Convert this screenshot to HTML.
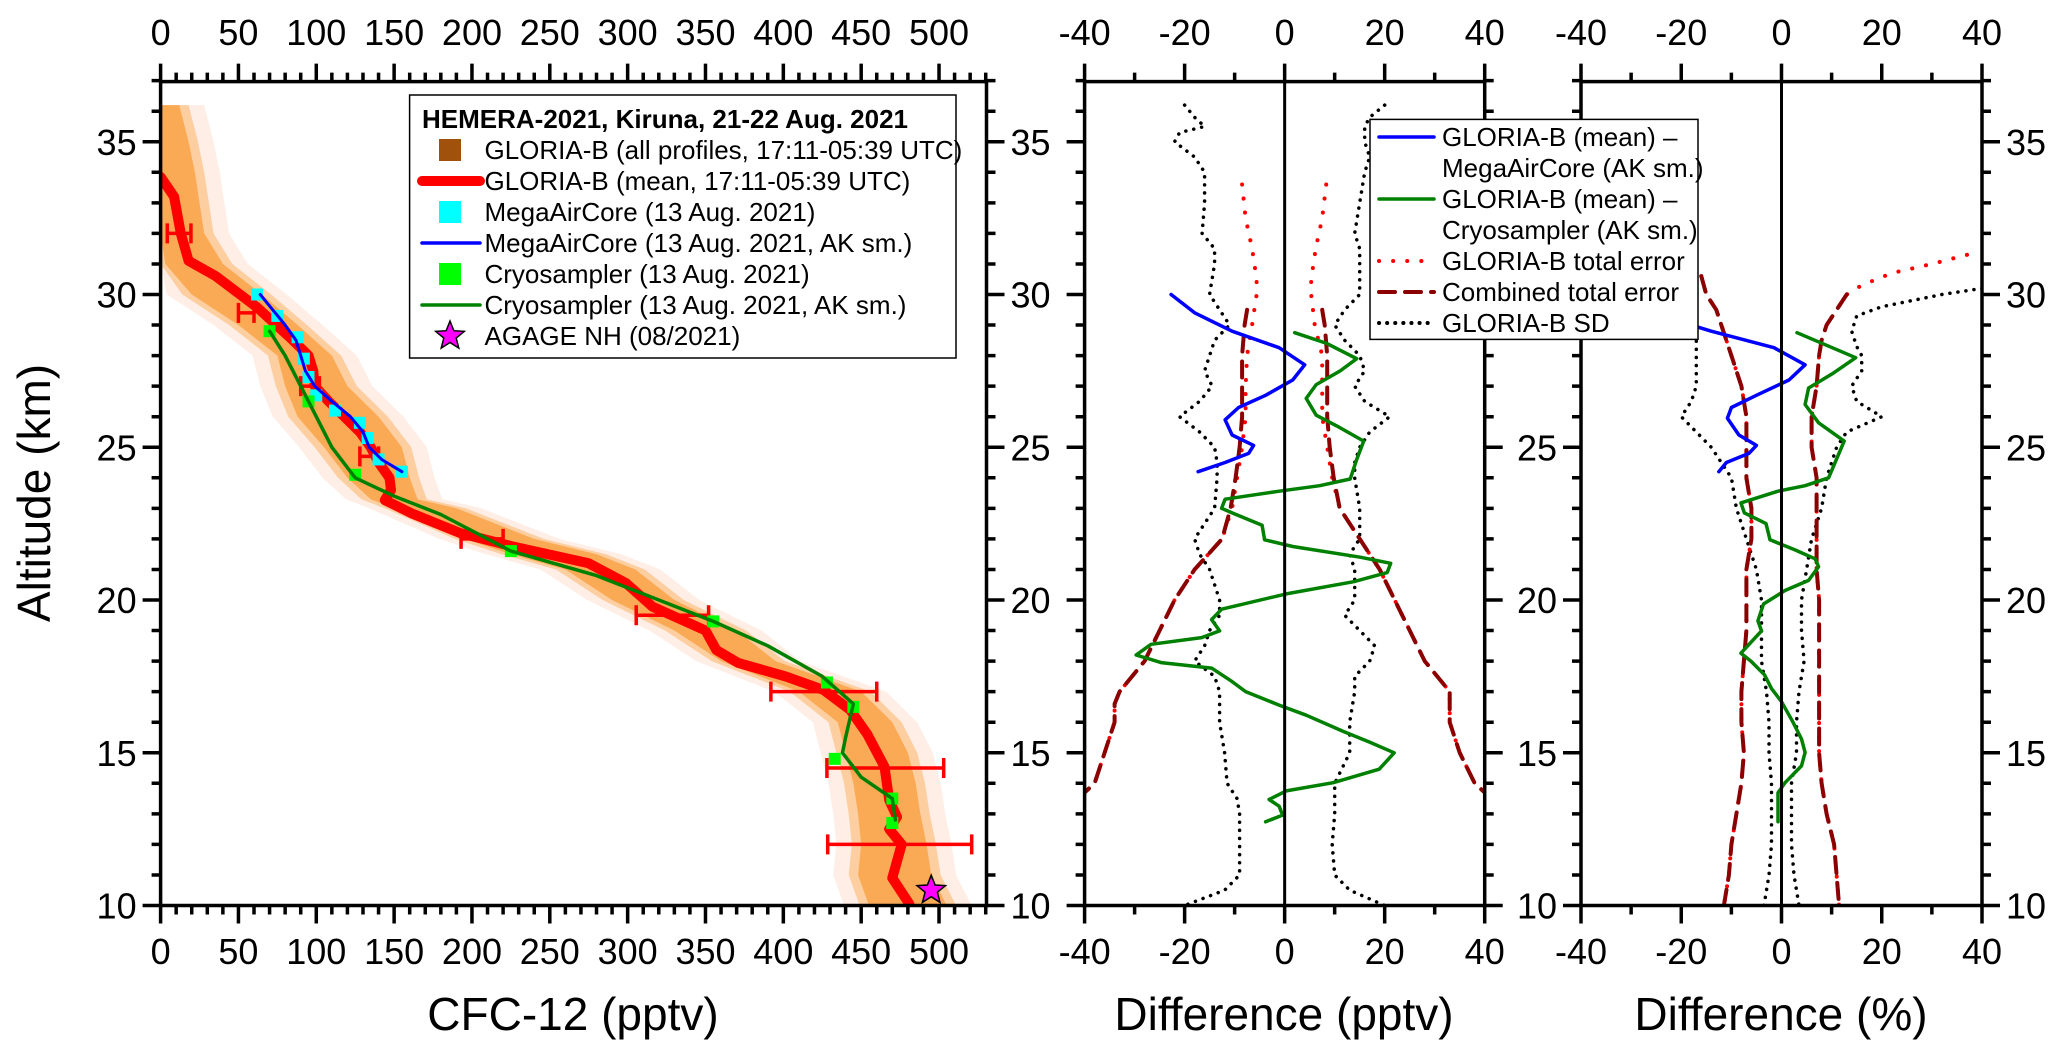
<!DOCTYPE html>
<html><head><meta charset="utf-8"><style>
html,body{margin:0;padding:0;background:#fff;}
svg{display:block;font-family:"Liberation Sans",Arial,sans-serif;}
</style></head><body>
<svg id="chart" xmlns="http://www.w3.org/2000/svg" width="2067" height="1058" viewBox="0 0 2067 1058">
<g id="layer-data"></g>
<g id="layer-axes"></g>
<g id="layer-legend"></g>
</svg>
<script>
// ---------- Panel 1 data (CFC-12 pptv vs altitude km) ----------
const meanAlt = [33.85,33.2,32.0,31.1,30.6,29.6,28.6,28.0,27.5,27.0,26.5,26.0,25.5,25.0,24.5,24.0,23.6,23.27,22.84,22.19,21.74,21.2,20.55,19.78,19.0,18.36,17.94,17.49,17.05,16.4,15.6,14.54,13.45,12.9,12.5,12.0,10.9,10.05];
const meanVal = [0,8.7,13,18,35.5,61.5,83,95,98,99,108,118,128,135,140,147,148,144,161,192.5,227,275,299,316,350,357,371,402,426,443,454,465,468,473,468,476,470,481];
const errAlt = [32.0,29.4,27.0,24.7,22.0,19.5,17.0,14.5,12.0];
const errLo  = [4.3,50,90,128,193,305.5,392,428,428.5];
const errHi  = [19.5,60,102,140,220,352,460,503,521];
const cloudAlt = [36.2,35,34,33,32,31,30,29,28,27,26,25,24,23.3,23,22,21.5,21,20,19,18,17,16,15,14,13,12,11,10];
const cloudLo  = [0,0,0,0,0,3,20,50,75,80,88,105,120,135,150,195,225,260,290,330,360,410,435,440,445,448,450,448,455];
const cloudHi  = [12,18,22,25,28,40,65,88,110,120,140,155,160,165,190,240,280,305,330,370,395,450,470,480,485,488,492,495,505];
const macAlt = [30,29.3,28.6,27.9,27.3,26.7,26.2,25.8,25.3,24.6,24.2];
const macVal = [62,75,88,92,95,100,112,128,133,140,155];
const macSmAlt = [30,29.5,29,28.5,28,27.5,27,26.5,26,25.5,25,24.6,24.2];
const macSmVal = [64,72,80,87,90,93,99,110,122,130,134,142,155];
const cryoAlt = [28.8,26.5,24.1,21.6,19.3,17.3,16.5,14.8,13.5,12.7];
const cryoVal = [70,95,125,225,355,428,445,433,470,470];
const cryoSmAlt = [28.8,28,27,26,25,24,23.4,22.8,21.6,20.8,20.2,19.3,18.5,17.5,16.6,15.5,15,14.2,13.5,12.8];
const cryoSmVal = [70,80,90,100,110,125,150,180,225,280,310,355,390,425,445,440,438,450,470,472];
const agageAlt = [10.5];
const agageVal = [495];
const p1Ticks = [0,50,100,150,200,250,300,350,400,450,500];
const altTicks = [10,15,20,25,30,35];

// ---------- Panel 2 data (difference pptv) ----------
const d2BlueAlt = [30,29.4,28.8,28.26,27.7,27.2,26.7,26.3,25.9,25.4,25.06,24.8,24.5,24.2];
const d2BlueVal = [-22.7,-18,-10.5,-1.1,4,1.6,-3.8,-9.2,-11.9,-10.5,-6.2,-7.2,-11.9,-17.3];
const d2GreenAlt = [28.75,28.4,27.9,27.5,27.05,26.6,26.05,25.7,25.2,24.6,23.96,23.74,23.56,23.3,23.0,22.85,22.45,21.97,21.75,21.4,21.2,20.9,20.6,20.2,19.7,19.36,18.99,18.77,18.55,18.2,17.95,17.77,17.33,17.0,16.56,16.23,15.7,15.34,15.0,14.46,14.02,13.75,13.47,13.25,12.96,12.74];
const d2GreenVal = [2,8.4,14.4,11.1,6.3,4.3,6.3,10.4,15.8,14.4,13.1,7,-1.1,-11.9,-12.6,-10.5,-4.5,-4,1.6,15.1,21.2,20.5,13.8,0.3,-12.6,-14.6,-13,-16.6,-26.7,-29.7,-24.7,-14.6,-10.5,-7.8,-1.1,4.3,11.7,17.1,21.9,18.9,9.7,0.3,-3.1,-1.1,-0.4,-3.8];
const d2ErrAlt = [33.6,32.5,31.5,30.5,30,29,28,27,26,25,24,23,22,21,20,19,18,17,16.6,16,15,14,13.7];
const d2ErrHi  = [8.3,7.5,6.2,5.3,5.3,6,7.5,7.5,7.5,8.5,9.5,11,15,19,22,25,28,33,33,33,35,38,40];
const d2ErrLo  = [-8.5,-7.8,-6.5,-5.6,-5.6,-6.5,-7.5,-7.8,-7.8,-8.5,-9.5,-10.5,-12.5,-18,-22,-25,-28,-33,-34,-34,-36,-38,-40];
const d2CombAlt = [29.5,29,28,27,26,25,24,23,22,21,20,19,18,17,16.6,16,15,14,13.7];
const d2CombHi  = [7.5,8,8.5,8.5,8.5,9,9.8,11,15,19,22,25,28,33,33,33,35,38,40];
const d2CombLo  = [-7.5,-8,-8.5,-8.5,-8.5,-9,-9.8,-10.8,-12.5,-18,-22,-25,-28,-33,-34,-34,-36,-38,-40];
const d2SdAlt = [36.2,35.8,35.5,35.3,35,34.5,34,33,32,31.5,31,30,29.5,29,28.5,28,27.5,27,26.5,26,25.5,25,24.5,24,23,22.5,22,21.5,21,20.5,20,19.5,19,18.5,18,17.5,17,16,15,14,13.5,13,12,11,10.5,10];
const d2SdLo = [-20,-18,-16,-21,-22,-18,-16,-16,-16.5,-14,-14,-15,-13,-11,-14,-15,-16,-14.5,-17,-21,-17,-14,-13.5,-13.5,-14,-16,-18,-17,-15,-14,-13,-13,-15,-16,-18,-14,-13,-13,-12,-11.5,-9.5,-9,-9,-9,-12,-20];
const d2SdHi = [20,17,16,16,16,17,16,15,14,15,15,15,12,10,12,15,16,14,16,21,17,15,14,14,15,15,15,13,14,14,14,12,15,18,17,14,14,13,13,10,10,10,9.5,10,13,20];

// ---------- Panel 3 data (difference %) ----------
const d3BlueAlt = [30,29.4,28.8,28.26,27.7,27.2,26.7,26.3,25.95,25.4,25.06,24.8,24.5,24.2];
const d3BlueVal = [-37,-26,-14,-1.5,4.7,1.5,-5,-10,-10.8,-8.5,-5,-6.5,-11,-12.5];
const d3GreenAlt = [28.75,27.93,27.4,26.94,26.4,25.8,25.2,24.0,23.74,23.56,23.18,22.85,22.5,21.97,21.64,21.35,21.09,20.64,20.31,19.87,19.32,18.99,18.26,18.0,17.55,17.1,16.67,16.0,15.45,15.01,14.57,14.02,13.69,12.74];
const d3GreenVal = [3.1,14.8,10.1,5.4,4.7,7.4,12.5,9.4,4.7,-0.7,-8.1,-7.4,-3.1,-2.3,2.7,6.7,7.4,5.4,0.7,-3.6,-4.7,-4,-8.1,-6.1,-3.4,-2,0,2.3,4,4.7,4,0.7,-0.7,-0.7];
const d3ErrHiAlt = [31.3,31,30.7,30.3,30,29.5,29,28.5,28,27,26,25,24,23,22,21,20,19,18,17,16,15,14,13,12,11,10];
const d3ErrHi = [37,30,22,16,13,11,9,8,7.5,7,6,6,7,7,7,7,7.5,7.5,7.5,7.5,7.5,7.5,8,9,10.5,11,11.5];
const d3ErrLoAlt = [30.6,30,29.5,29,28,27,26,25,24,23,22,21,20,19,18,17,16,15,14,13,12,11,10];
const d3ErrLo = [-16,-15,-13,-12,-10,-8,-7,-7,-7,-6,-6,-7,-7,-7,-7.5,-8,-8,-7.5,-8,-9,-10,-10.5,-11.5];
const d3SdHiAlt = [30.2,30,29.6,29.3,28.8,28.3,28,27.5,27,26.5,26,25.5,25,24.5,24,23,22,21,20,19,18,17,16,15,14,13,12,11,10];
const d3SdHi = [40,32,20,15,14,15,16,16,14,15,20,13,11,10,9,8,6,5,4,4,4.5,3.5,3,3,2,2,2,2.5,3.5];
const d3SdLoAlt = [29,28.5,28,27.5,27,26.5,26,25.5,25,24.5,24,23,22,21,20,19,18,17,16,15,14,13,12,11,10];
const d3SdLo = [-17,-17,-17,-17,-17,-18,-20,-17,-14,-12,-10,-9,-7,-5,-4,-4,-4,-3,-2.5,-2.5,-2,-2,-2,-2.5,-3.5];
const diffTicks = [-40,-20,0,20,40];

// ---------- geometry ----------
const NS = "http://www.w3.org/2000/svg";
const Y0 = 905.5, YTOP = 81.6, KM = 30.55;
function yAlt(a){ return Y0 - (a-10)*KM; }
const P1 = {x0:160.6, x1:986.5, vmin:0, vmax:530.5};
const P2 = {x0:1084.6, x1:1484.7, vmin:-40, vmax:40};
const P3 = {x0:1581.0, x1:1982.0, vmin:-40, vmax:40};
function xOf(P,v){ return P.x0 + (v-P.vmin)/(P.vmax-P.vmin)*(P.x1-P.x0); }
const gData = document.getElementById('layer-data');
const gAxes = document.getElementById('layer-axes');
const gLeg = document.getElementById('layer-legend');
function mk(tag, attrs, parent){
  const e = document.createElementNS(NS, tag);
  for (const k in attrs) e.setAttribute(k, attrs[k]);
  parent.appendChild(e); return e;
}
function pts(P, alts, vals){ return alts.map((a,i)=>xOf(P,vals[i]).toFixed(1)+','+yAlt(a).toFixed(1)).join(' '); }
function line(P, alts, vals, stroke, w, dash, name, parent){
  const e = mk('polyline', {points:pts(P,alts,vals), fill:'none', stroke:stroke, 'stroke-width':w, 'stroke-linejoin':'round', 'stroke-linecap':'round'}, parent||gData);
  if (dash) e.setAttribute('stroke-dasharray', dash);
  
  
  return e;
}

const defs = mk('defs', {}, document.getElementById('chart'));
[['c1',P1],['c2',P2],['c3',P3]].forEach(([id,P])=>{
  const cp = mk('clipPath', {id:id}, defs);
  mk('rect', {x:P.x0, y:YTOP, width:P.x1-P.x0, height:Y0-YTOP}, cp);
});
const g1 = mk('g', {'clip-path':'url(#c1)'}, gData);


const g2 = mk('g', {'clip-path':'url(#c2)'}, gData);


const g3 = mk('g', {'clip-path':'url(#c3)'}, gData);



function band(lo, hi, pad, fill, op, name){
  const left = cloudAlt.map((a,i)=>xOf(P1,Math.max(0,lo[i]-pad)).toFixed(1)+','+yAlt(a).toFixed(1));
  const right = cloudAlt.map((a,i)=>xOf(P1,hi[i]+pad).toFixed(1)+','+yAlt(a).toFixed(1)).reverse();
  const e = mk('polygon', {points:left.concat(right).join(' '), fill:fill, 'fill-opacity':op, stroke:'none', 'stroke-linejoin':'round'}, g1);
  
  
}
band(cloudLo, cloudHi, 16, '#FDE0D2', 0.55, 'all-profiles-halo');
band(cloudLo, cloudHi, 6, '#FCC58E', 0.8, 'all-profiles-cloud-edge');
band(cloudLo, cloudHi, 0, '#F9A64C', 0.9, 'all-profiles-cloud');

line(P1, meanAlt, meanVal, '#FF0000', 10, null, 'gloria-mean-line', g1);
errAlt.forEach((a,i)=>{
  const y = yAlt(a), xa = xOf(P1,errLo[i]), xb = xOf(P1,errHi[i]);
  const e = mk('path', {d:`M${xa},${y}H${xb}M${xa},${y-10}V${y+10}M${xb},${y-10}V${y+10}`, stroke:'#FF0000', 'stroke-width':3.5, fill:'none'}, g1);
  
  
});
macAlt.forEach((a,i)=>{
  const e = mk('rect', {x:xOf(P1,macVal[i])-6, y:yAlt(a)-6, width:12, height:12, fill:'#00FFFF'}, g1);
  
  
});
line(P1, macSmAlt, macSmVal, '#0000FF', 3, null, 'megaaircore-smoothed-line', g1);
cryoAlt.forEach((a,i)=>{
  const e = mk('rect', {x:xOf(P1,cryoVal[i])-6, y:yAlt(a)-6, width:12, height:12, fill:'#00FF00'}, g1);
  
  
});
line(P1, cryoSmAlt, cryoSmVal, '#008000', 3.5, null, 'cryosampler-smoothed-line', g1);
function starPath(cx,cy,R,r){
  let d=''; for(let k=0;k<10;k++){const ang=-Math.PI/2+k*Math.PI/5; const rr=k%2?r:R; d+=(k?'L':'M')+(cx+rr*Math.cos(ang)).toFixed(1)+','+(cy+rr*Math.sin(ang)).toFixed(1);} return d+'Z';
}
agageAlt.forEach((a,i)=>{
  const e = mk('path', {d:starPath(xOf(P1,agageVal[i]), yAlt(a), 15, 6.5), fill:'#FF00FF', stroke:'#000', 'stroke-width':1.5}, gData);
  
  
});

line(P2, d2SdAlt, d2SdLo, '#000', 3.5, '0.1 8', 'sd-left-pptv', g2);
line(P2, d2SdAlt, d2SdHi, '#000', 3.5, '0.1 8', 'sd-right-pptv', g2);
line(P2, d2ErrAlt, d2ErrLo, '#FF0000', 4, '0.1 14', 'total-error-left-pptv', g2);
line(P2, d2ErrAlt, d2ErrHi, '#FF0000', 4, '0.1 14', 'total-error-right-pptv', g2);
line(P2, d2CombAlt, d2CombLo, '#8B0000', 4, '16 10', 'combined-error-left-pptv', g2);
line(P2, d2CombAlt, d2CombHi, '#8B0000', 4, '16 10', 'combined-error-right-pptv', g2);
line(P2, d2BlueAlt, d2BlueVal, '#0000FF', 3.5, null, 'diff-megaaircore-pptv', g2);
line(P2, d2GreenAlt, d2GreenVal, '#008000', 3.5, null, 'diff-cryosampler-pptv', g2);
line(P3, d3SdHiAlt, d3SdHi, '#000', 3.5, '0.1 8', 'sd-right-percent', g3);
line(P3, d3SdLoAlt, d3SdLo, '#000', 3.5, '0.1 8', 'sd-left-percent', g3);
line(P3, d3ErrHiAlt, d3ErrHi, '#FF0000', 4, '0.1 14', 'total-error-right-percent', g3);
line(P3, d3ErrLoAlt, d3ErrLo, '#FF0000', 4, '0.1 14', 'total-error-left-percent', g3);
line(P3, d3ErrHiAlt.slice(4), d3ErrHi.slice(4), '#8B0000', 4, '16 10', 'combined-error-right-percent', g3);
line(P3, d3ErrLoAlt, d3ErrLo, '#8B0000', 4, '16 10', 'combined-error-left-percent', g3);
line(P3, d3BlueAlt, d3BlueVal, '#0000FF', 3.5, null, 'diff-megaaircore-percent', g3);
line(P3, d3GreenAlt, d3GreenVal, '#008000', 3.5, null, 'diff-cryosampler-percent', g3);

[P2,P3].forEach(P=>{
  const e = mk('line', {x1:xOf(P,0), x2:xOf(P,0), y1:YTOP, y2:Y0, stroke:'#000', 'stroke-width':3}, gAxes);
  
  
});

function text(x,y,s,size,anchor,name,extra){
  const t = mk('text', {x:x, y:y, 'font-size':size, 'text-anchor':anchor||'middle', fill:'#000'}, gAxes);
  if (extra) for (const k in extra) t.setAttribute(k, extra[k]);
  t.textContent = s;
  
  
  return t;
}
function frame(P, xMajor, xMinorStep, leftLabels, rightLabels, name){
  const r = mk('rect', {x:P.x0, y:YTOP, width:P.x1-P.x0, height:Y0-YTOP, fill:'none', stroke:'#000', 'stroke-width':3.5}, gAxes);
  
  
  let d='';
  for (let v=P.vmin; v<=P.vmax+1e-6; v+=xMinorStep){
    const x = xOf(P,v); const major = xMajor.some(m=>Math.abs(m-v)<1e-6); const L = major?18:9;
    d += `M${x},${YTOP}V${YTOP-L}M${x},${Y0}V${Y0+L}`;
  }
  for (let a=10; a<=37; a++){
    const y = yAlt(a); const L = a%5===0?18:9;
    d += `M${P.x0},${y}H${P.x0-L}M${P.x1},${y}H${P.x1+L}`;
  }
  const t = mk('path', {d:d, stroke:'#000', 'stroke-width':3.5, fill:'none'}, gAxes);
  
  
  xMajor.forEach(v=>{
    text(xOf(P,v), 45, String(v), 36, 'middle', name+'-top-tick-label');
    text(xOf(P,v), 964, String(v), 36, 'middle', name+'-bottom-tick-label');
  });
  altTicks.forEach(a=>{
    if (leftLabels) text(P.x0-24, yAlt(a)+13, String(a), 36, 'end', name+'-left-tick-label');
    if (rightLabels) text(P.x1+24, yAlt(a)+13, String(a), 36, 'start', name+'-right-tick-label');
  });
}
frame(P1, p1Ticks, 10, true, true, 'cfc12');
frame(P2, diffTicks, 10, false, false, 'diff-pptv');
frame(P3, diffTicks, 10, true, true, 'diff-percent');
text(573, 1030, 'CFC-12 (pptv)', 46, 'middle', 'x-axis-title-cfc12');
text(1284, 1030, 'Difference (pptv)', 46, 'middle', 'x-axis-title-diff-pptv');
text(1781, 1030, 'Difference (%)', 46, 'middle', 'x-axis-title-diff-percent');
text(0, 0, 'Altitude (km)', 46, 'middle', 'y-axis-title', {transform:'translate(50,493) rotate(-90)'});

function ltext(x,y,s,name,bold){
  const t = mk('text', {x:x, y:y, 'font-size':26, fill:'#000'}, gLeg);
  if (bold) t.setAttribute('font-weight','bold');
  t.textContent = s;
  
  
}
const lb1 = mk('rect', {x:409.6, y:95, width:546.4, height:263, fill:'#fff', stroke:'#000', 'stroke-width':1.5}, gLeg);


ltext(422, 128, 'HEMERA-2021, Kiruna, 21-22 Aug. 2021', 'legend-title', true);
const L1 = [
  ['sq','#A0520D','GLORIA-B (all profiles, 17:11-05:39 UTC)','legend-entry-all-profiles'],
  ['ln','#FF0000','GLORIA-B (mean, 17:11-05:39 UTC)','legend-entry-mean',10],
  ['sq','#00FFFF','MegaAirCore (13 Aug. 2021)','legend-entry-megaaircore'],
  ['ln','#0000FF','MegaAirCore (13 Aug. 2021, AK sm.)','legend-entry-megaaircore-smoothed',3.5],
  ['sq','#00FF00','Cryosampler (13 Aug. 2021)','legend-entry-cryosampler'],
  ['ln','#008000','Cryosampler (13 Aug. 2021, AK sm.)','legend-entry-cryosampler-smoothed',3.5],
  ['st','#FF00FF','AGAGE NH (08/2021)','legend-entry-agage']
];
L1.forEach((e,i)=>{
  const y = 150 + i*31;
  let s;
  if (e[0]==='sq') s = mk('rect', {x:439, y:y-11, width:22, height:22, fill:e[1]}, gLeg);
  else if (e[0]==='ln') s = mk('line', {x1:422, x2:480, y1:y, y2:y, stroke:e[1], 'stroke-width':e[4], 'stroke-linecap':'round'}, gLeg);
  else s = mk('path', {d:starPath(450, y, 15, 6.5), fill:e[1], stroke:'#000', 'stroke-width':1.5}, gLeg);
  
  
  ltext(484.5, y+9, e[2], e[3]);
});
const lb2 = mk('rect', {x:1370, y:119.4, width:328, height:220, fill:'#fff', stroke:'#000', 'stroke-width':1.5}, gLeg);


const L2 = [
  ['#0000FF',null,'GLORIA-B (mean) –','legend-entry-diff-megaaircore'],
  [null,null,'MegaAirCore (AK sm.)','legend-entry-diff-megaaircore-2'],
  ['#008000',null,'GLORIA-B (mean) –','legend-entry-diff-cryosampler'],
  [null,null,'Cryosampler (AK sm.)','legend-entry-diff-cryosampler-2'],
  ['#FF0000','0.1 14','GLORIA-B total error','legend-entry-total-error'],
  ['#8B0000','16 10','Combined total error','legend-entry-combined-error'],
  ['#000','0.1 8','GLORIA-B SD','legend-entry-sd']
];
L2.forEach((e,i)=>{
  const y = 137 + i*31;
  if (e[0]){
    const s = mk('line', {x1:1379, x2:1434, y1:y, y2:y, stroke:e[0], 'stroke-width':e[1]?4:3.5, 'stroke-linecap':'round'}, gLeg);
    if (e[1]) s.setAttribute('stroke-dasharray', e[1]);
    
    
  }
  ltext(1442, y+9, e[2], e[3]);
});
</script>
</body></html>
